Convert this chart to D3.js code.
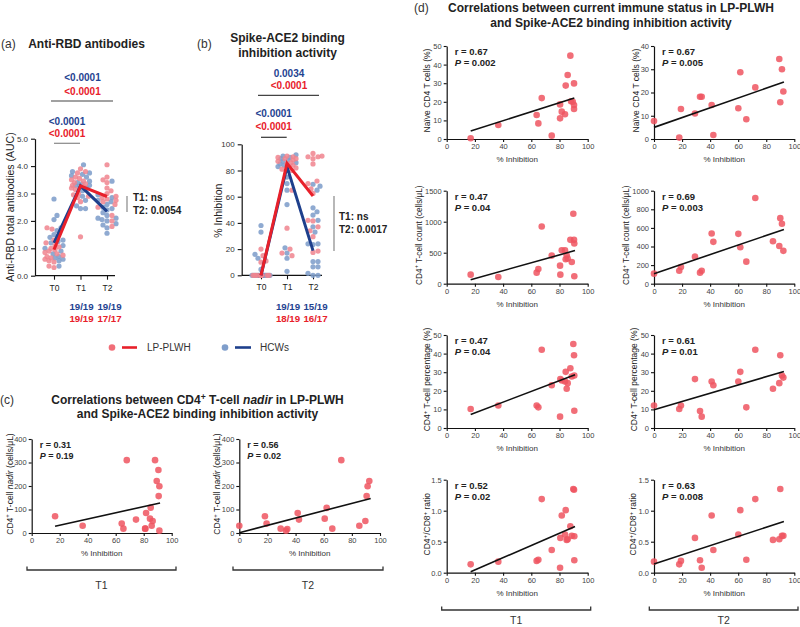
<!DOCTYPE html>
<html><head><meta charset="utf-8">
<script src="https://cdn.jsdelivr.net/npm/d3@7"></script>
<style>body{margin:0;background:#fff}svg{display:block}</style>
</head><body>
<svg id="chart" width="800" height="627"></svg>
<script>
// ---------------- DATA ----------------
const timepoints = ["T0", "T1", "T2"];
// (a) Anti-RBD antibodies (AUC)
const rbdHCW_T0 = [2.8, 2.2, 2.05, 1.75, 1.65, 1.5, 1.4, 1.3, 1.25, 1.2, 1.1, 1.0, 0.9, 0.8, 0.7, 0.65, 0.6, 0.55, 0.35];
const rbdHCW_T1 = [4.05, 3.8, 3.75, 3.7, 3.65, 3.6, 3.45, 3.4, 3.35, 3.3, 3.3, 3.25, 3.2, 3.1, 2.9, 2.75, 2.55, 2.45, 2.45];
const rbdHCW_T2 = [3.45, 2.95, 2.85, 2.75, 2.7, 2.6, 2.5, 2.45, 2.4, 2.3, 2.2, 2.1, 2.1, 2.05, 2.0, 1.9, 1.85, 1.75, 1.55];
const rbdPLWH_T0 = [1.75, 1.7, 1.3, 1.2, 1.1, 1.05, 1.0, 0.95, 0.9, 0.85, 0.8, 0.75, 0.7, 0.65, 0.6, 0.55, 0.5, 0.35, 0.3];
const rbdPLWH_T1 = [3.9, 3.8, 3.75, 3.6, 3.55, 3.5, 3.45, 3.4, 3.35, 3.3, 3.25, 3.2, 3.15, 3.0, 2.95, 2.9, 2.85, 2.7, 1.42];
const rbdPLWH_T2 = [4.05, 3.6, 3.5, 3.4, 3.2, 3.1, 3.0, 2.9, 2.85, 2.8, 2.75, 2.7, 2.6, 2.5, 2.2, 2.0, 1.8];
const rbdHCW_center = [1.2, 3.28, 2.35];
const rbdPLWH_center = [0.95, 3.28, 2.89];
// (b) % inhibition
const inhHCW_T0 = [38, 33, 16, 13, 4.5, 0, 0, 0, 0, 0, 0, 0, 0, 0, 0, 0, 0, 0, 0];
const inhHCW_T1 = [92, 91, 90, 89, 88, 87, 86, 85, 84, 83, 80, 75, 70, 65, 54, 21, 17, 13, 3];
const inhHCW_T2 = [69.5, 68, 65, 51.5, 48.5, 46, 42, 37, 33, 24, 24, 23.5, 10.5, 10.5, 6.5, 6.5, 1.5, 0, 0];
const inhPLWH_T0 = [20, 15, 11, 10, 0, 0, 0, 0, 0, 0, 0, 0, 0, 0, 0, 0, 0, 0, 0];
const inhPLWH_T1 = [91, 90.5, 90, 89, 89, 88, 87, 86, 85, 84, 83, 82, 81, 80, 65, 36, 20, 17, 15];
const inhPLWH_T2 = [93, 91, 90.5, 90.5, 89, 85, 72, 70, 66, 62.5, 42, 41.5, 37, 34, 29.5, 18.5, 17.5];
const inhHCW_center = [0, 83, 18.8];
const inhPLWH_center = [0, 85.5, 60.5];
const pTopA = ["<0.0001", "<0.0001"], pLowA = ["<0.0001", "<0.0001"];
const pTopB = ["0.0034", "<0.0001"], pLowB = ["<0.0001", "<0.0001"];
const fracHCW_A = ["19/19", "19/19"], fracPLWH_A = ["19/19", "17/17"];
const fracHCW_B = ["19/19", "15/19"], fracPLWH_B = ["18/19", "16/17"];
const betweenA = ["T1: ns", "T2: 0.0054"], betweenB = ["T1: ns", "T2: 0.0017"];
// (c) CD4 nadir vs inhibition
const nadirT1_x = [16.7, 36.4, 64.3, 65.5, 67.9, 74.5, 81, 81.2, 81.7, 84.5, 85, 85.7, 86.4, 88.1, 89.3, 90.5, 91.2, 90.7, 91.2];
const nadirT1_y = [71, 31, 40, 18.5, 310, 57, 18.5, 18.5, 85, 61, 108, 31, 51, 310, 221, 268, 199, 157, 10];
const nadirT1_fit = [[16.7, 28.5], [91.7, 128]];
const nadirT2_x = [0, 18.2, 19.4, 29.4, 33.2, 34.1, 41.5, 42.4, 60.7, 62.1, 66.1, 72.5, 85.3, 89.6, 90.5, 91.2, 92.4];
const nadirT2_y = [31, 71, 40, 18.5, 10, 17, 85, 57, 61, 107, 18.5, 310, 31, 51, 157, 199, 221];
const nadirT2_fit = [[0, 1.4], [93.4, 147]];
// (d) current immune status vs inhibition
const naiveT1_x = [17, 36.6, 63.8, 65, 67.4, 74.5, 80.4, 80.4, 81.6, 83.9, 84.4, 85.8, 87.7, 88.2, 89.4, 90.3, 90.3, 90.3];
const naiveT1_y = [0.4, 7.5, 12.9, 8.4, 22.0, 1.8, 18.6, 11.1, 14.7, 13.3, 28.7, 34.4, 44.8, 20.3, 20.0, 16.1, 29.9, 18.3];
const naiveT1_fit = [[17, 4.3], [90.5, 22]];
const naiveT2_x = [0, 18, 19.2, 29.2, 32.8, 34, 41.1, 42.3, 60.1, 61.5, 65.8, 72.2, 89.3, 90, 91.2, 92.2];
const naiveT2_y = [7.7, 0.6, 12.9, 11.0, 18.2, 18.2, 14.6, 1.7, 13.2, 28.7, 8.5, 22.2, 34.4, 15.8, 30, 20.4];
const naiveT2_fit = [[0, 5], [92.6, 24.5]];
const inhT1_x = [17, 36.6, 63.8, 65, 67.4, 74.5, 80.4, 80.6, 81.6, 83.9, 84.4, 85.1, 85.8, 87.7, 88.7, 89.8, 90.3, 90.5, 90.5];
const inhT2_x = [0, 18, 19.2, 29.2, 32.8, 34, 41.1, 42.3, 60.1, 61.5, 65.8, 72.2, 84.8, 89.3, 90, 91.2, 92.2];
const countT1_y = [146, 108, 178, 237, 923, 453, 291, 146, 540, 540, 394, 459, 405, 707, 351, 1128, 707, 648, 119];
const countT1_fit = [[17, 65], [91, 534]];
const countT2_y = [108, 140, 180, 291, 119, 140, 540, 450, 536, 392, 237, 921, 457, 406, 705, 644, 353];
const countT2_fit = [[0, 108], [92.6, 583]];
const pctT1_y = [10.2, 12.1, 12.1, 11.1, 42.1, 23, 6.1, 26.3, 25.5, 25, 30.2, 21.1, 24.1, 32.1, 27.7, 45.2, 39.1, 28.2, 9.3];
const pctT1_fit = [[17, 7.3], [91, 28.6]];
const pctT2_y = [12.1, 10.2, 12.1, 26.3, 9.1, 6.1, 25, 23, 25, 30.2, 11.1, 42.1, 21.1, 24.1, 39.1, 28.2, 27.1];
const pctT2_fit = [[0, 9.8], [92.6, 30.4]];
const ratioT1_y = [0.135, 0.178, 0.19, 0.21, 1.187, 0.367, 0.081, 0.561, 0.923, 0.615, 1.009, 0.529, 0.54, 0.75, 0.594, 1.349, 1.338, 0.588, 0.2];
const ratioT1_fit = [[17, 0.016], [91, 0.745]];
const ratioT2_y = [0.178, 0.135, 0.19, 0.561, 0.2, 0.081, 0.923, 0.367, 0.615, 1.009, 0.21, 1.187, 0.529, 0.54, 1.349, 0.594, 0.594];
const ratioT2_fit = [[0, 0.14], [92.6, 0.826]];
const inhTicks = [0, 20, 40, 60, 80, 100];

// ---------------- STYLE ----------------
const FONT = '"Liberation Sans", Arial, Helvetica, sans-serif';
const BLUE_DOT = "#7f9ecb", RED_DOT = "#f0848e", CORR_DOT = "#ef5560";
const BLUE_LINE = "#1e3f8c", RED_LINE = "#e8202a";
const BLUE_TXT = "#1f4391", RED_TXT = "#e8202a";
const svg = d3.select("#chart").attr("font-family", FONT);

function txt(x, y, s, o = {}) {
  const size = o.size || 10;
  const t = svg.append("text").attr("x", x).attr("y", y + 0.35 * size)
    .attr("font-size", size).attr("font-weight", o.bold ? "bold" : "normal")
    .attr("fill", o.color || "#222").attr("text-anchor", o.anchor || "start");
  if (o.italic) t.attr("font-style", "italic");
  t.text(s);
  return t;
}
// rich text: segments [{t, sup, it, b}]
function rich(parent, segs, size) {
  let raised = false;
  segs.forEach(s => {
    const ts = parent.append("tspan").text(s.t);
    if (s.it) ts.attr("font-style", "italic");
    if (s.b) ts.attr("font-weight", "bold");
    if (s.sup) {
      ts.attr("font-size", size * 0.72);
      if (!raised) { ts.attr("dy", -0.38 * size); raised = true; }
    } else if (raised) { ts.attr("dy", 0.38 * size); raised = false; }
  });
}
function vlabel(cx, cy, segs, size) {
  const t = svg.append("text")
    .attr("transform", `translate(${cx + 0.35 * size},${cy}) rotate(-90)`)
    .attr("text-anchor", "middle").attr("font-size", size).attr("fill", "#222");
  rich(t, segs, size);
}
function hline(x1, x2, y, color, w) {
  svg.append("line").attr("x1", x1).attr("x2", x2).attr("y1", y).attr("y2", y)
    .attr("stroke", color || "#333").attr("stroke-width", w || 1.2);
}
function vline(x, y1, y2, color, w) {
  svg.append("line").attr("x1", x).attr("x2", x).attr("y1", y1).attr("y2", y2)
    .attr("stroke", color || "#333").attr("stroke-width", w || 1.2);
}
function styleAxis(g, fs, col) {
  g.attr("font-family", FONT);
  g.select(".domain").attr("stroke", "#111").attr("stroke-width", 1.2);
  g.selectAll(".tick line").attr("stroke", "#111").attr("stroke-width", 1.1);
  g.selectAll(".tick text").attr("font-size", fs).attr("fill", col || "#333");
}

// deterministic bounded beeswarm
function swarm(points, cx, yScale, r, maxOff) {
  const order = points.map((d, i) => i).sort((a, b) => points[a].v - points[b].v);
  const placed = [], out = new Array(points.length);
  const cands = [0]; for (let k = 1; k <= maxOff; k++) cands.push(k, -k);
  order.forEach(i => {
    const y = yScale(points[i].v);
    let best = 0, bestD = -1;
    for (const dx of cands) {
      let m = Infinity;
      for (const p of placed) { const d = Math.hypot(p.x - (cx + dx), p.y - y); if (d < m) m = d; }
      if (m >= 1.85 * r) { best = dx; break; }
      if (m > bestD) { bestD = m; best = dx; }
    }
    const pt = { x: cx + best, y, cls: points[i].cls };
    placed.push(pt); out[i] = pt;
  });
  return out;
}

function groupPanel(o) {
  const x = d3.scalePoint().domain(timepoints).range(o.xRange);
  const y = d3.scaleLinear().domain(o.yDomain).range(o.yRange);
  const ya = svg.append("g").attr("transform", `translate(${o.axisX},0)`)
    .call(d3.axisLeft(y).tickValues(o.yTicks).tickSize(4).tickPadding(3).tickSizeOuter(0));
  styleAxis(ya, 8, "#333");
  const xa = svg.append("g").attr("transform", `translate(0,${o.yRange[0]})`)
    .call(d3.axisBottom(x).tickSize(4).tickPadding(5).tickSizeOuter(0));
  styleAxis(xa, 8.5, "#222");
  xa.select(".domain").remove();
  hline(o.axisX, o.axisEnd, o.yRange[0], "#111", 1.2);
  const blues = [], reds = [];
  timepoints.forEach((tp, i) => {
    const pts = o.hcw[i].map(v => ({ v, cls: "b" })).concat(o.plwh[i].map(v => ({ v, cls: "r" })));
    const lay = swarm(pts, x(tp), y, 2.6, 9);
    lay.forEach(p => (p.cls === "b" ? blues : reds).push(p));
  });
  svg.append("g").selectAll("circle").data(blues).join("circle")
    .attr("cx", d => d.x).attr("cy", d => d.y).attr("r", 2.6).attr("fill", BLUE_DOT).attr("opacity", 0.88);
  svg.append("g").selectAll("circle").data(reds).join("circle")
    .attr("cx", d => d.x).attr("cy", d => d.y).attr("r", 2.6).attr("fill", RED_DOT).attr("opacity", 0.85);
  const line = d3.line().x((d, i) => x(timepoints[i])).y(d => y(d));
  svg.append("path").attr("d", line(o.hcwC)).attr("fill", "none").attr("stroke", BLUE_LINE).attr("stroke-width", 3);
  svg.append("path").attr("d", line(o.plwhC)).attr("fill", "none").attr("stroke", RED_LINE).attr("stroke-width", 3);
  return x;
}

// ---------------- PANEL (a) ----------------
txt(1, 44, "(a)", { size: 12, color: "#333" });
txt(86.5, 44, "Anti-RBD antibodies", { size: 12, bold: true, anchor: "middle" });
const xA = groupPanel({
  xRange: [54, 107], yDomain: [0, 5], yRange: [275.7, 138.7], yTicks: [0, 1, 2, 3, 4, 5],
  axisX: 35, axisEnd: 115,
  hcw: [rbdHCW_T0, rbdHCW_T1, rbdHCW_T2], plwh: [rbdPLWH_T0, rbdPLWH_T1, rbdPLWH_T2],
  hcwC: rbdHCW_center, plwhC: rbdPLWH_center
});
vlabel(10, 207, [{ t: "Anti-RBD total antibodies (AUC)" }], 10.5);
txt(82.5, 77, pTopA[0], { size: 10, bold: true, color: BLUE_TXT, anchor: "middle" });
txt(82.5, 91.7, pTopA[1], { size: 10, bold: true, color: RED_TXT, anchor: "middle" });
hline(51, 113, 101, "#444", 1.2);
txt(67, 121, pLowA[0], { size: 10, bold: true, color: BLUE_TXT, anchor: "middle" });
txt(67, 133.3, pLowA[1], { size: 10, bold: true, color: RED_TXT, anchor: "middle" });
hline(54, 80, 143.3, "#888", 1.2);
vline(127, 196, 212, "#888", 1.2);
txt(133, 197.7, betweenA[0], { size: 10, bold: true });
txt(133, 210.7, betweenA[1], { size: 10, bold: true });
const fracOff = [1, 2.5];
fracHCW_A.forEach((s, i) => txt(xA(timepoints[i + 1]) + fracOff[i], 306.7, s, { size: 9.7, bold: true, color: BLUE_TXT, anchor: "middle" }));
fracPLWH_A.forEach((s, i) => txt(xA(timepoints[i + 1]) + fracOff[i], 318.3, s, { size: 9.7, bold: true, color: RED_TXT, anchor: "middle" }));

// ---------------- PANEL (b) ----------------
txt(197, 44, "(b)", { size: 12, color: "#333" });
txt(287.5, 38, "Spike-ACE2 binding", { size: 12, bold: true, anchor: "middle" });
txt(287.5, 53, "inhibition activity", { size: 12, bold: true, anchor: "middle" });
const xB = groupPanel({
  xRange: [261, 313], yDomain: [0, 100], yRange: [275.3, 144.3], yTicks: [0, 20, 40, 60, 80, 100],
  axisX: 241.7, axisEnd: 322,
  hcw: [inhHCW_T0, inhHCW_T1, inhHCW_T2], plwh: [inhPLWH_T0, inhPLWH_T1, inhPLWH_T2],
  hcwC: inhHCW_center, plwhC: inhPLWH_center
});
vlabel(218.3, 210.7, [{ t: "% Inhibition" }], 10.5);
txt(289, 73, pTopB[0], { size: 10, bold: true, color: BLUE_TXT, anchor: "middle" });
txt(289, 85.5, pTopB[1], { size: 10, bold: true, color: RED_TXT, anchor: "middle" });
hline(258, 319, 95.3, "#444", 1.2);
txt(273.7, 113.3, pLowB[0], { size: 10, bold: true, color: BLUE_TXT, anchor: "middle" });
txt(273.7, 126.7, pLowB[1], { size: 10, bold: true, color: RED_TXT, anchor: "middle" });
hline(261, 286.7, 137.3, "#333", 1.2);
vline(334, 196, 251, "#888", 1.2);
txt(339, 216.5, betweenB[0], { size: 10, bold: true });
txt(339, 229, betweenB[1], { size: 10, bold: true });
fracHCW_B.forEach((s, i) => txt(xB(timepoints[i + 1]) + fracOff[i], 306.7, s, { size: 9.7, bold: true, color: BLUE_TXT, anchor: "middle" }));
fracPLWH_B.forEach((s, i) => txt(xB(timepoints[i + 1]) + fracOff[i], 318.3, s, { size: 9.7, bold: true, color: RED_TXT, anchor: "middle" }));

// ---------------- LEGEND ----------------
svg.append("circle").attr("cx", 112).attr("cy", 347.5).attr("r", 3.3).attr("fill", CORR_DOT).attr("opacity", 0.85);
hline(122, 137, 347.5, RED_LINE, 2.6);
txt(147, 347.5, "LP-PLWH", { size: 10, color: "#333" });
svg.append("circle").attr("cx", 225).attr("cy", 347.5).attr("r", 3.3).attr("fill", BLUE_DOT);
hline(235, 251, 347.5, BLUE_LINE, 2.6);
txt(260, 347.5, "HCWs", { size: 10, color: "#333" });

// ---------------- CORRELATION PLOTS ----------------
function corr(o) {
  const x = d3.scaleLinear().domain([0, 100]).range([o.left, o.left + o.w]);
  const y = d3.scaleLinear().domain([0, o.yMax]).range([o.top + o.h, o.top]);
  const xa = svg.append("g").attr("transform", `translate(0,${o.top + o.h})`)
    .call(d3.axisBottom(x).tickValues(inhTicks).tickSize(3).tickPadding(1.5).tickSizeOuter(0));
  styleAxis(xa, 7.5, "#444");
  const ya = svg.append("g").attr("transform", `translate(${o.left},0)`)
    .call(d3.axisLeft(y).tickValues(o.yTicks).tickSize(3).tickPadding(2).tickSizeOuter(0)
      .tickFormat(o.fmt || d3.format("d")));
  styleAxis(ya, 7.5, "#444");
  svg.append("g").selectAll("circle").data(d3.zip(o.xs, o.ys)).join("circle")
    .attr("cx", d => x(d[0])).attr("cy", d => y(d[1])).attr("r", 3.3)
    .attr("fill", CORR_DOT).attr("opacity", 0.85);
  svg.append("line").attr("x1", x(o.fit[0][0])).attr("y1", y(o.fit[0][1]))
    .attr("x2", x(o.fit[1][0])).attr("y2", y(o.fit[1][1]))
    .attr("stroke", "#111").attr("stroke-width", 1.6);
  const fs = o.statSize || 9.5;
  txt(o.left + 8, o.top + 6, "r = " + o.r, { size: fs, bold: true });
  const pt = svg.append("text").attr("x", o.left + 8).attr("y", o.top + 16.8 + 0.35 * fs)
    .attr("font-size", fs).attr("font-weight", "bold").attr("fill", "#222");
  rich(pt, [{ t: "P", it: true }, { t: " = " + o.p }], fs);
  txt(o.left + o.w / 2, o.top + o.h + 20, "% Inhibition", { size: 8, color: "#333", anchor: "middle" });
  vlabel(o.left - (o.labOff || 19.5), o.top + o.h / 2 - 2, o.label, o.labSize || 8.5);
}
function bracket(x1, x2, y, label, ly) {
  svg.append("path").attr("d", `M${x1},${y - 3.5}V${y}H${x2}V${y - 3.5}`)
    .attr("fill", "none").attr("stroke", "#333").attr("stroke-width", 1.3);
  txt((x1 + x2) / 2, ly, label, { size: 10.5, color: "#333", anchor: "middle" });
}

// ---------------- PANEL (c) ----------------
txt(0, 400, "(c)", { size: 12, color: "#333" });
const tc1 = svg.append("text").attr("x", 197.5).attr("y", 400 + 4.2).attr("text-anchor", "middle")
  .attr("font-size", 12).attr("font-weight", "bold").attr("fill", "#222");
rich(tc1, [{ t: "Correlations between CD4" }, { t: "+", sup: true }, { t: " T-cell " }, { t: "nadir", it: true }, { t: " in LP-PLWH" }], 12);
txt(197.5, 413.5, "and Spike-ACE2 binding inhibition activity", { size: 12, bold: true, anchor: "middle" });
const nadirLabel = [{ t: "CD4" }, { t: "+", sup: true }, { t: " T-cell " }, { t: "nadir", it: true }, { t: " (cells/μL)" }];
corr({ left: 31.7, w: 140, top: 439, h: 94, yMax: 400, yTicks: [0, 100, 200, 300, 400],
  xs: nadirT1_x, ys: nadirT1_y, fit: nadirT1_fit, r: "0.31", p: "0.19", statSize: 9,
  label: nadirLabel, labOff: 22, labSize: 8.5 });
corr({ left: 239.3, w: 140.7, top: 439, h: 94, yMax: 400, yTicks: [0, 100, 200, 300, 400],
  xs: nadirT2_x, ys: nadirT2_y, fit: nadirT2_fit, r: "0.56", p: "0.02", statSize: 9,
  label: nadirLabel, labOff: 22.5, labSize: 8.5 });
bracket(27, 176, 570, "T1", 585);
bracket(233, 383, 570, "T2", 585);

// ---------------- PANEL (d) ----------------
txt(414, 8, "(d)", { size: 12, color: "#333" });
txt(611, 8, "Correlations between current immune status in LP-PLWH", { size: 12, bold: true, anchor: "middle" });
txt(611, 22.5, "and Spike-ACE2 binding inhibition activity", { size: 12, bold: true, anchor: "middle" });
const L = 446.7, R = 654, WL = 141, WR = 140.3, HH = 93;
const rowsTop = [46, 190.7, 335, 479.7];
const lblNaive = [{ t: "Naïve CD4 T cells (%)" }];
const lblCount = [{ t: "CD4" }, { t: "+", sup: true }, { t: " T-cell count (cells/μL)" }];
const lblPct = [{ t: "CD4" }, { t: "+", sup: true }, { t: " T-cell percentage (%)" }];
const lblRatio = [{ t: "CD4" }, { t: "+", sup: true }, { t: "/CD8" }, { t: "+", sup: true }, { t: " ratio" }];
corr({ left: L, w: WL, top: rowsTop[0], h: HH, yMax: 50, yTicks: [0, 10, 20, 30, 40, 50],
  xs: naiveT1_x, ys: naiveT1_y, fit: naiveT1_fit, r: "0.67", p: "0.002", label: lblNaive });
corr({ left: R, w: WR, top: rowsTop[0], h: HH, yMax: 40, yTicks: [0, 10, 20, 30, 40],
  xs: naiveT2_x, ys: naiveT2_y, fit: naiveT2_fit, r: "0.67", p: "0.005", label: lblNaive, labOff: 17.5 });
corr({ left: L, w: WL, top: rowsTop[1], h: HH, yMax: 1500, yTicks: [0, 500, 1000, 1500],
  xs: inhT1_x, ys: countT1_y, fit: countT1_fit, r: "0.47", p: "0.04", label: lblCount, labOff: 28, labSize: 8.2 });
corr({ left: R, w: WR, top: rowsTop[1], h: HH, yMax: 1000, yTicks: [0, 200, 400, 600, 800, 1000],
  xs: inhT2_x, ys: countT2_y, fit: countT2_fit, r: "0.69", p: "0.003", label: lblCount, labOff: 28, labSize: 8.2 });
corr({ left: L, w: WL, top: rowsTop[2], h: HH, yMax: 50, yTicks: [0, 10, 20, 30, 40, 50],
  xs: inhT1_x, ys: pctT1_y, fit: pctT1_fit, r: "0.47", p: "0.04", label: lblPct });
corr({ left: R, w: WR, top: rowsTop[2], h: HH, yMax: 50, yTicks: [0, 10, 20, 30, 40, 50],
  xs: inhT2_x, ys: pctT2_y, fit: pctT2_fit, r: "0.61", p: "0.01", label: lblPct });
corr({ left: L, w: WL, top: rowsTop[3], h: HH, yMax: 1.5, yTicks: [0, 0.5, 1, 1.5], fmt: d3.format(".1f"),
  xs: inhT1_x, ys: ratioT1_y, fit: ratioT1_fit, r: "0.52", p: "0.02", label: lblRatio });
corr({ left: R, w: WR, top: rowsTop[3], h: HH, yMax: 1.5, yTicks: [0, 0.5, 1, 1.5], fmt: d3.format(".1f"),
  xs: inhT2_x, ys: ratioT2_y, fit: ratioT2_fit, r: "0.63", p: "0.008", label: lblRatio, labOff: 21 });
bracket(441.7, 590.7, 610, "T1", 620.5);
bracket(649.3, 798, 610, "T2", 620.5);
</script>
</body></html>
